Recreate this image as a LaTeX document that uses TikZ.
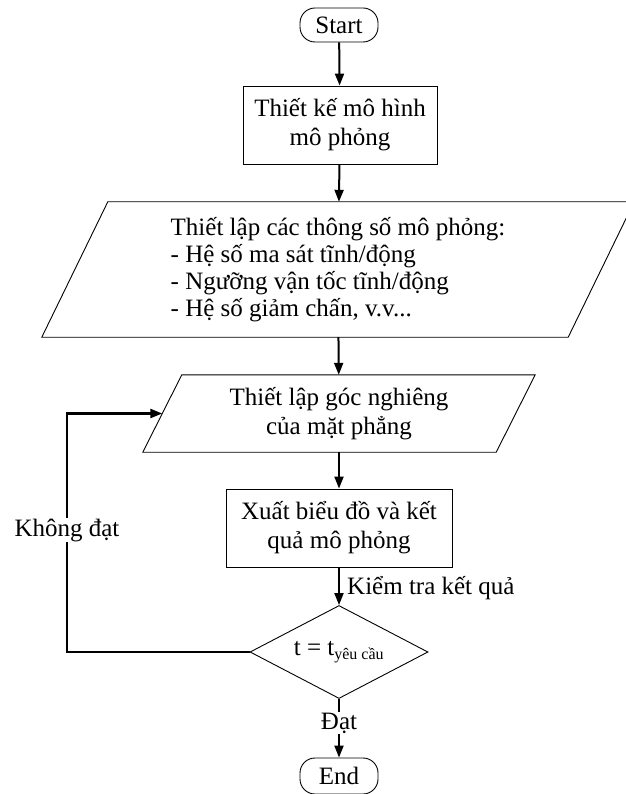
\documentclass[tikz,border=0pt]{standalone}
\usepackage{fontspec}
\setmainfont{Liberation Serif}
\usetikzlibrary{shapes.geometric,arrows.meta}

\tikzset{
  terminal/.style={draw, line width=0.9pt, rounded corners=15pt, minimum width=78pt, minimum height=34pt, inner sep=0pt},
  process/.style={draw, line width=0.9pt, minimum height=78pt, inner sep=0pt, align=center},
  io/.style={inner sep=0pt},
  decision/.style={draw, line width=0.9pt, diamond, aspect=1.91, minimum width=178pt, minimum height=93pt, inner sep=0pt},
  flow/.style={line width=2pt, -{Triangle[length=12pt,width=9pt]}},
  tag/.style={fill=white, inner sep=1pt}
}
% slanted outline round an io node: #1 node, #2 half slant
\newcommand{\drawio}[2]{\draw[line width=0.9pt] ([xshift=#2]#1.north west) -- ([xshift=#2]#1.north east)
  -- ([xshift=-#2]#1.south east) -- ([xshift=-#2]#1.south west) -- cycle;}

\begin{document}
\begin{tikzpicture}[x=1pt, y=-1pt, font=\fontsize{25}{29}\selectfont]
\useasboundingbox (0,0) rectangle (625,794);

\node[terminal] (start) at (339, 25) {Start};
\node[process, minimum width=194pt] (design) at (340, 125) {Thiết kế mô hình\\mô phỏng};
\node[io, minimum width=526pt, minimum height=135pt, align=left, font=\fontsize{25}{27}\selectfont] (params) at (338, 269.5)
  {Thiết lập các thông số mô phỏng:\\- Hệ số ma sát tĩnh/động\\- Ngưỡng vận tốc tĩnh/động\\- Hệ số giảm chấn, v.v...};
\drawio{params}{33pt}
\node[io, minimum width=353pt, minimum height=77pt, align=center] (angle) at (339, 413.5) {Thiết lập góc nghiêng\\của mặt phẳng};
\drawio{angle}{19.5pt}
\node[process, minimum width=226pt] (output) at (339, 528) {Xuất biểu đồ và kết\\quả mô phỏng};
\node[decision] (check) at (339, 652) {t = t\textsubscript{\fontsize{16}{18}\selectfont yêu cầu}};
\node[terminal, minimum height=36pt] (finish) at (339, 776) {End};

\coordinate (back) at (67, 652);

\draw[flow] (start) -- (design);
\draw[flow] (design) -- (params);
\draw[flow] (params) -- (angle);
\draw[flow] (angle) -- (output);
\draw[flow] (output) -- (check);
\node[anchor=west, inner sep=0pt] (checklbl) at (347, 588) {Kiểm tra kết quả};
\draw[flow] (check) -- (finish);
\node[tag] (pass) at (339, 723) {Đạt};
\draw[flow, line width=2.4pt] (check.west) -- (back) |- (angle.west);
\node[tag] (fail) at (67, 530) {Không đạt};

\end{tikzpicture}
\end{document}
